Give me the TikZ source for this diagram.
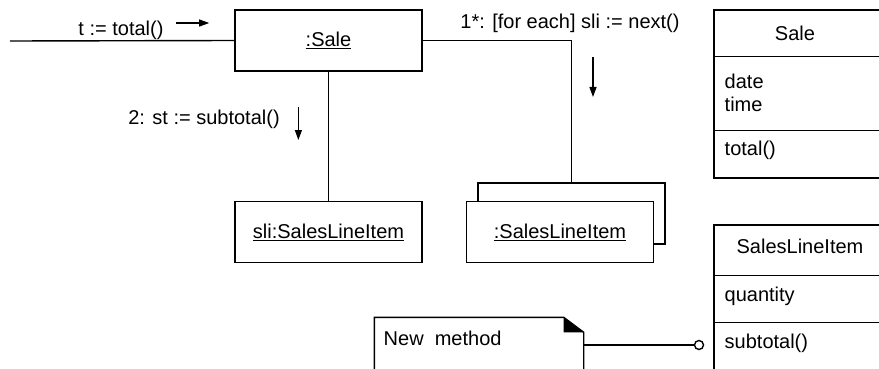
\documentclass[tikz,border=0pt]{standalone}
\usepackage{fontspec}
\setmainfont{Liberation Sans}
\usetikzlibrary{arrows.meta,positioning,calc}

\begin{document}
\begin{tikzpicture}[x=1pt,y=-1pt,line width=1.4pt,
  every node/.style={font=\fontsize{20}{23}\selectfont,inner sep=0pt},
  obj/.style={draw,fill=white,minimum width=187pt,minimum height=61pt},
  cls/.style={draw,minimum width=166pt},
  msg/.style={-{Triangle[length=10pt,width=7pt]},line width=1.3pt}]
  \useasboundingbox (0,0) rectangle (879,369);
  \clip (0,0) rectangle (879,369);
  % collaboration part
  \node[obj] (sale) at (328.5,40.5) {\underline{:Sale}};
  \node[obj] (sli) at (328.5,232) {\underline{sli:SalesLineItem}};
  \node[obj] (back) at (571.5,213.5) {};
  \node[obj] (multi) at (560,232) {\underline{:SalesLineItem}};
  \coordinate (caller) at (10,41);
  \draw (caller) -- (sale.west);
  \draw (sale.south) -- (sli.north);
  \draw (sale.east) -| (back.north);
  \node (m0) at (121,30) {t := total()};
  \draw[msg] ([xshift=12pt,yshift=7pt]m0.east) -- ++(33,0);
  \node (m2) at (204,119) {2: st := subtotal()};
  \draw[msg] ([xshift=18pt,yshift=12pt]m2.east) -- ++(0,33);
  \node (m1) at (570,23) {1*: [for each] sli := next()};
  \draw[msg] ([xshift=23pt,yshift=-34pt]m1.center) -- ++(0,40);
  % class boxes
  \node[cls,minimum height=168pt] (saleclass) at (797,94) {};
  \draw ([yshift=-47pt]saleclass.north west) -- ([yshift=-47pt]saleclass.north east);
  \draw ([yshift=-121pt]saleclass.north west) -- ([yshift=-121pt]saleclass.north east);
  \node (salename) at (795,33) {Sale};
  \node[anchor=west,align=left] (saleattr) at (724,92.5) {date\\time};
  \node[anchor=west] (saleop) at (724,150) {total()};
  \node[cls,minimum height=175pt] (sliclass) at (797,312.5) {};
  \draw ([yshift=-51pt]sliclass.north west) -- ([yshift=-51pt]sliclass.north east);
  \draw ([yshift=-98pt]sliclass.north west) -- ([yshift=-98pt]sliclass.north east);
  \node (sliname) at (800,246) {SalesLineItem};
  \node[anchor=west] (sliattr) at (724,296) {quantity};
  \node[anchor=west] (sliop) at (724,343) {subtotal()};
  % note
  \node[minimum width=208pt,minimum height=72pt] (note) at (479,354) {};
  \draw[fill=white] (note.south west) |- ([xshift=-20pt]note.north east)
    -- ([yshift=-15pt]note.north east) -- (note.south east);
  \fill ([xshift=-20pt]note.north east) -- ([xshift=-20pt,yshift=-15pt]note.north east)
    -- ([yshift=-15pt]note.north east) -- cycle;
  \node[anchor=west] (notetext) at (383,338) {New\ \ method};
  \node[circle,draw,fill=white,minimum size=9pt] (port) at (699,345) {};
  \draw (note.east |- port) -- (port.west);
\end{tikzpicture}
\end{document}
